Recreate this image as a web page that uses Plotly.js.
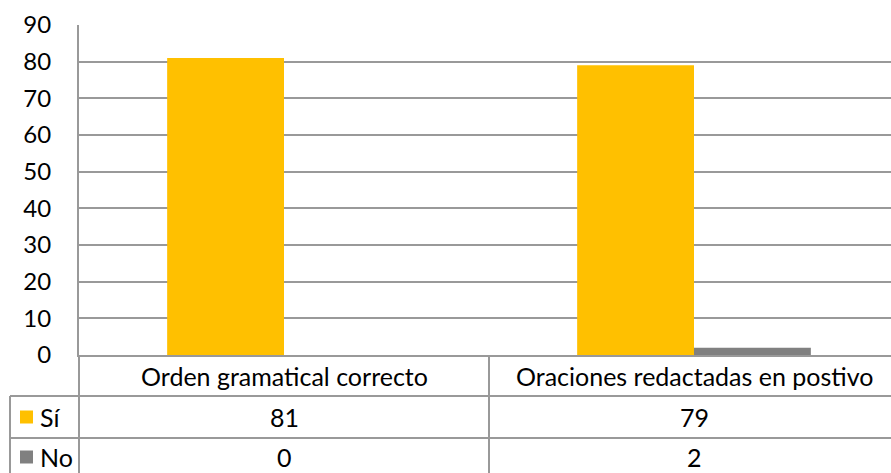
<!DOCTYPE html>
<html>
<head>
<meta charset="utf-8">
<script src="https://cdn.plot.ly/plotly-3.0.1.min.js"></script>
<style>html,body{margin:0;padding:0;background:#fff;}#chart{width:891px;height:473px;}</style>
</head>
<body>
<div id="chart"></div>
<script>
const categories = ["Orden gramatical correcto", "Oraciones redactadas en postivo"];
const seriesNames = ["Sí", "No"];
const siValues = [81, 79];
const noValues = [0, 2];
const seriesColors = ["#FFC000", "#808080"];

const W = 891, H = 473, L = 79, R = 0, T = 25, B = 118;
const pw = W - L - R, ph = H - T - B;
const px2x = p => (p - L) / pw;
const py2y = p => (H - B - p) / ph;

const FONT = "Lato, 'Liberation Sans', sans-serif";
const TS = 25;
const lineCol = "#999999";

const traces = [
  {type: "bar", name: seriesNames[0], x: [0, 1], y: siValues, marker: {color: seriesColors[0]}, hoverinfo: "none"},
  {type: "bar", name: seriesNames[1], x: [0, 1], y: noValues, marker: {color: seriesColors[1]}, hoverinfo: "none"}
];

const rowY = [396, 438, 473];
const shapes = [];
const lw = 2;
shapes.push({type: "line", xref: "paper", yref: "paper", x0: px2x(10), x1: 1, y0: py2y(rowY[0]), y1: py2y(rowY[0]), line: {color: lineCol, width: lw}});
shapes.push({type: "line", xref: "paper", yref: "paper", x0: px2x(10), x1: 1, y0: py2y(rowY[1]), y1: py2y(rowY[1]), line: {color: lineCol, width: lw}});
shapes.push({type: "line", xref: "paper", yref: "paper", x0: px2x(10), x1: px2x(10), y0: py2y(rowY[0]), y1: py2y(H), line: {color: lineCol, width: lw}});
shapes.push({type: "line", xref: "paper", yref: "paper", x0: 0, x1: 0, y0: 0, y1: py2y(H), line: {color: lineCol, width: lw}});
shapes.push({type: "line", xref: "x", yref: "paper", x0: 0.5, x1: 0.5, y0: 0, y1: py2y(H), line: {color: lineCol, width: lw}});
seriesColors.forEach((c, i) => {
  const cy = i === 0 ? 417 : 457;
  shapes.push({type: "rect", xref: "paper", yref: "paper", x0: px2x(20), x1: px2x(33), y0: py2y(cy - 6.5), y1: py2y(cy + 6.5), fillcolor: c, line: {width: 0}});
});

const annotations = [];
categories.forEach((c, i) => {
  annotations.push({xref: "x", yref: "paper", x: i, y: py2y(376), text: c, showarrow: false, font: {family: FONT, size: TS, color: "#000"}, xanchor: "center", yanchor: "middle"});
  annotations.push({xref: "x", yref: "paper", x: i, y: py2y(417), text: String(siValues[i]), showarrow: false, font: {family: FONT, size: TS, color: "#000"}, xanchor: "center", yanchor: "middle"});
  annotations.push({xref: "x", yref: "paper", x: i, y: py2y(457), text: String(noValues[i]), showarrow: false, font: {family: FONT, size: TS, color: "#000"}, xanchor: "center", yanchor: "middle"});
});
seriesNames.forEach((n, i) => {
  const cy = i === 0 ? 417 : 457;
  annotations.push({xref: "paper", yref: "paper", x: px2x(38), y: py2y(cy), text: n, showarrow: false, font: {family: FONT, size: TS, color: "#000"}, xanchor: "left", yanchor: "middle"});
});

const layout = {
  width: W, height: H,
  margin: {l: L, r: R, t: T, b: B, pad: 0},
  paper_bgcolor: "#fff", plot_bgcolor: "#fff",
  showlegend: false,
  barmode: "group",
  bargap: 0.43, bargroupgap: 0,
  xaxis: {range: [-0.5, -0.5 + pw / 410], showticklabels: false, showgrid: false, zeroline: false, showline: true, linecolor: lineCol, linewidth: lw, ticks: "", fixedrange: true},
  yaxis: {range: [0, 90], dtick: 10, tick0: 0, showgrid: true, gridcolor: lineCol, gridwidth: lw, zeroline: false, showline: true, linecolor: lineCol, linewidth: lw, ticks: "", ticklabelstandoff: 21, tickfont: {family: FONT, size: 24, color: "#000"}, fixedrange: true},
  shapes: shapes,
  annotations: annotations
};

Plotly.newPlot("chart", traces, layout, {staticPlot: true, displayModeBar: false});
</script>
</body>
</html>
